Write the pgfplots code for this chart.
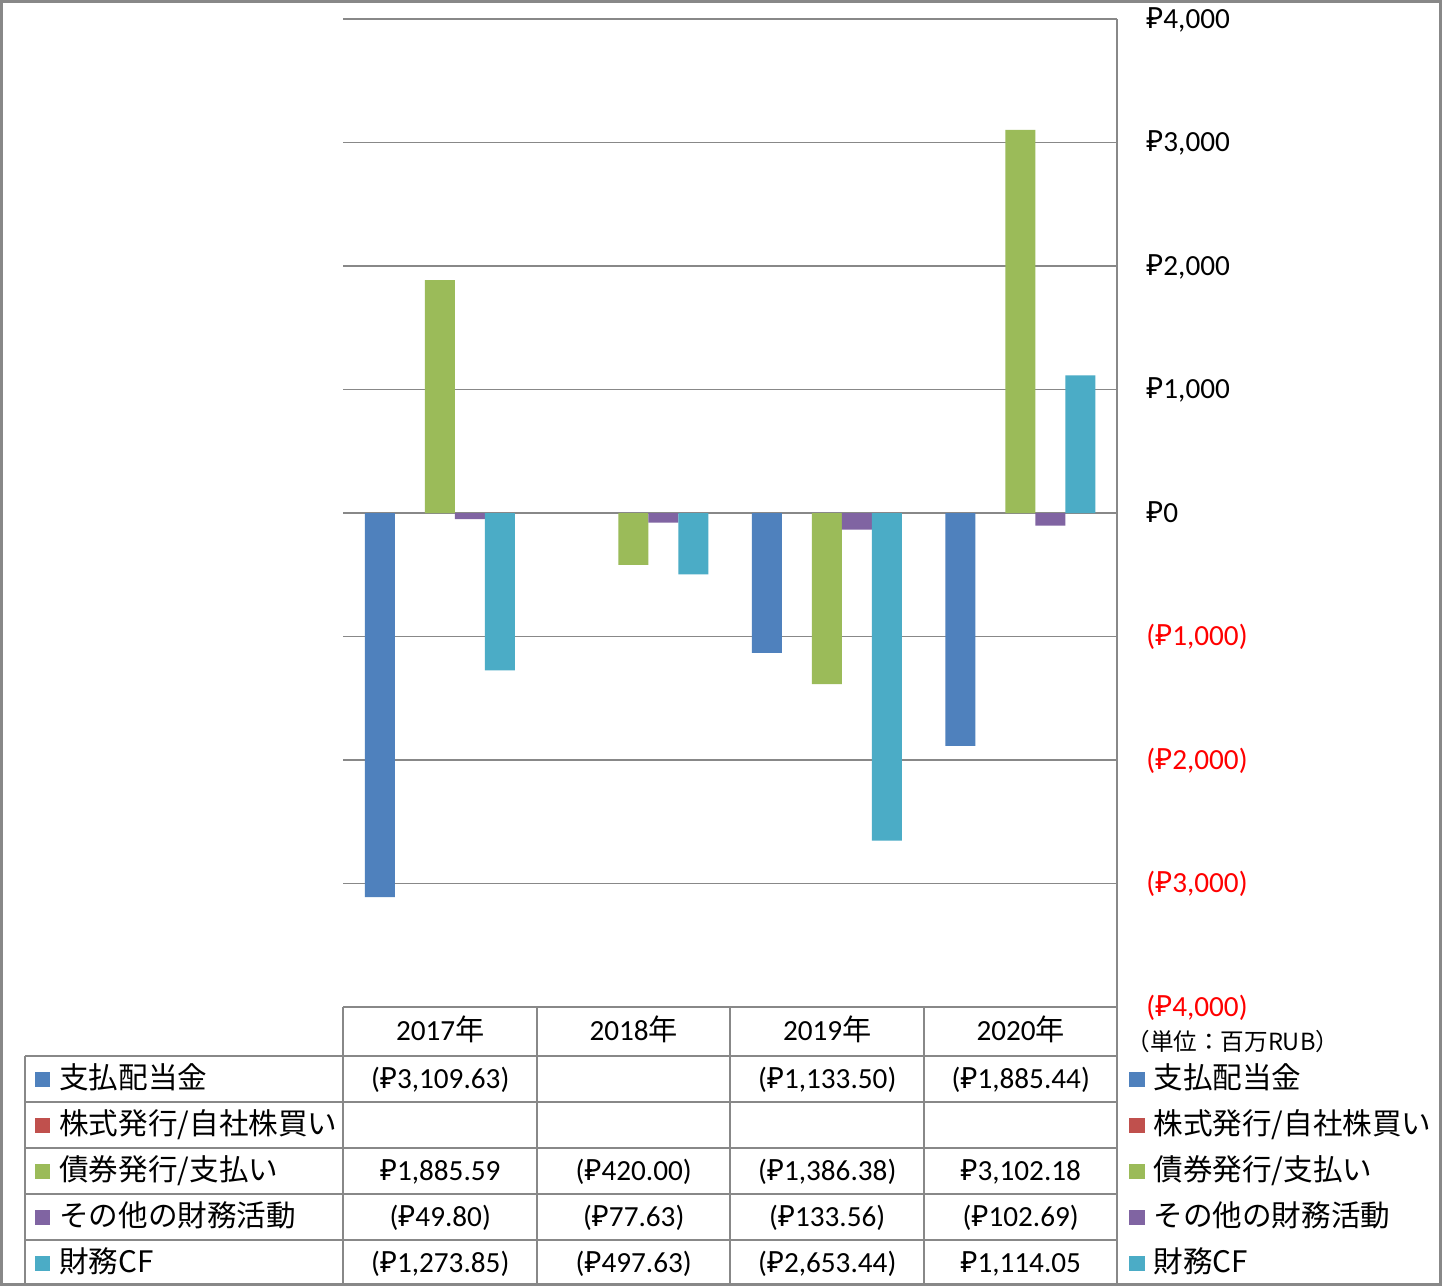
\documentclass[border=0pt]{standalone}
\usepackage{fontspec}
\setmainfont{Carlito}
\newfontfamily\jp{Noto Sans CJK JP}
\newfontfamily\rubf{Noto Sans}
\usepackage{pgfplots}
\pgfplotsset{compat=1.18}
\definecolor{cB}{HTML}{4F81BD}
\definecolor{cR}{HTML}{C0504D}
\definecolor{cG}{HTML}{9BBB59}
\definecolor{cP}{HTML}{8064A2}
\definecolor{cC}{HTML}{4BACC6}
\definecolor{gl}{HTML}{888888}
\newcommand\rub{{\rubf ₽}}
\newcommand\pv[1]{\rub#1}
\newcommand\nv[1]{(\rub#1)}
\newcommand\rv[1]{\textcolor{red}{(\rub#1)}}
\begin{document}
\begin{tikzpicture}
\useasboundingbox (0,0) rectangle (721pt,-643pt);
\fill[white] (0,0) rectangle (721pt,-643pt);
\begin{axis}[at={(171.5pt,-503.5pt)}, anchor=south west,
  width=387pt, height=494pt, scale only axis,
  xmin=-0.5, xmax=3.5, ymin=-4000, ymax=4000,
  xtick=\empty, ytick={-4000,-3000,...,4000},
  yticklabels={{\rv{4,000}},{\rv{3,000}},{\rv{2,000}},{\rv{1,000}},{\pv{0}},{\pv{1,000}},{\pv{2,000}},{\pv{3,000}},{\pv{4,000}}},
  yticklabel pos=right,
  ymajorgrids, grid style={gl, line width=0.55pt},
  axis line style={draw=none}, major tick length=0pt,
  yticklabel style={anchor=west, inner sep=0pt, xshift=14.5pt, text height=9.3pt, text depth=0pt, font=\fontsize{14.6}{17}\selectfont},
  ybar, bar width=15pt, clip=false]
\addplot[fill=cB, draw=none, bar shift=-30pt] coordinates {(0,-3109.63) (2,-1133.50) (3,-1885.44)};
\addplot[fill=cG, draw=none, bar shift=0pt] coordinates {(0,1885.59) (1,-420.00) (2,-1386.38) (3,3102.18)};
\addplot[fill=cP, draw=none, bar shift=15pt] coordinates {(0,-49.80) (1,-77.63) (2,-133.56) (3,-102.69)};
\addplot[fill=cC, draw=none, bar shift=30pt] coordinates {(0,-1273.85) (1,-497.63) (2,-2653.44) (3,1114.05)};
\end{axis}
\begin{scope}[x=0.5pt,y=-0.5pt]
\tikzset{tl/.style={gl, line width=0.6pt},
  tx/.style={inner sep=0pt, text height=9.3pt, text depth=0pt, font=\fontsize{14.6}{17}\selectfont},
  jx/.style={inner sep=0pt, text height=9.3pt, text depth=0pt, anchor=west, font=\fontsize{14.8}{17}\selectfont\jp}}
\foreach \yy in {1056,1102,1148,1194,1240} \draw[tl] (25,\yy) -- (1117,\yy);
\foreach \xx in {343,537,730,924} \draw[tl] (\xx,1007) -- (\xx,1286);
\draw[tl] (1117,19) -- (1117,1286);
\draw[tl] (25,1056) -- (25,1286);
% header
\node[tx] at (440.25,1031) {2017{\jp 年}};
\node[tx] at (633.75,1031) {2018{\jp 年}};
\node[tx] at (827.25,1031) {2019{\jp 年}};
\node[tx] at (1020.75,1031) {2020{\jp 年}};
% legend squares
\foreach \yy/\cc in {1079/cB, 1125/cR, 1171/cG, 1217/cP, 1263/cC}{
  \fill[\cc] (35,\yy-7.5) rectangle (50,\yy+7.5);
  \fill[\cc] (1129,\yy-7.5) rectangle (1145,\yy+7.5);
}
\foreach \xx in {59,1153}{
  \node[jx] at (\xx,1079) {支払配当金};
  \node[jx] at (\xx,1125) {株式発行/自社株買い};
  \node[jx] at (\xx,1171) {債券発行/支払い};
  \node[jx] at (\xx,1217) {その他の財務活動};
  \node[jx] at (\xx,1263) {財務CF};
}
% values
\node[tx] at (440.25,1079) {\nv{3,109.63}};
\node[tx] at (827.25,1079) {\nv{1,133.50}};
\node[tx] at (1020.75,1079) {\nv{1,885.44}};
\node[tx] at (440.25,1171) {\pv{1,885.59}};
\node[tx] at (633.75,1171) {\nv{420.00}};
\node[tx] at (827.25,1171) {\nv{1,386.38}};
\node[tx] at (1020.75,1171) {\pv{3,102.18}};
\node[tx] at (440.25,1217) {\nv{49.80}};
\node[tx] at (633.75,1217) {\nv{77.63}};
\node[tx] at (827.25,1217) {\nv{133.56}};
\node[tx] at (1020.75,1217) {\nv{102.69}};
\node[tx] at (440.25,1263) {\nv{1,273.85}};
\node[tx] at (633.75,1263) {\nv{497.63}};
\node[tx] at (827.25,1263) {\nv{2,653.44}};
\node[tx] at (1020.75,1263) {\pv{1,114.05}};
\node[inner sep=0pt, anchor=west, font=\fontsize{11.8}{13}\selectfont\jp] at (1126,1042) {（単位：百万RUB）};
\draw[gl, line width=1.3pt] (1.3,1.3) rectangle (1440.7,1284.7);
\end{scope}
\end{tikzpicture}
\end{document}
